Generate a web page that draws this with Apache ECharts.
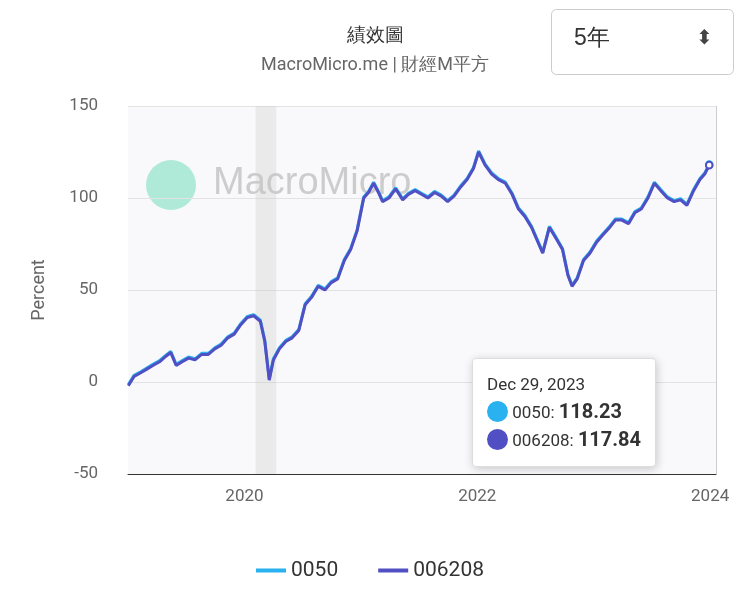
<!DOCTYPE html><html><head><meta charset="utf-8"><script src="https://cdn.jsdelivr.net/npm/echarts@6/dist/echarts.min.js"></script>
<style>body{margin:0;background:#fff}#c{width:740px;height:608px}</style></head><body><div id="c"></div><script>
const dates=["2019-01-02","2019-01-20","2019-02-10","2019-03-01","2019-03-20","2019-04-10","2019-04-30","2019-05-15","2019-06-01","2019-06-20","2019-07-10","2019-07-30","2019-08-20","2019-09-10","2019-09-30","2019-10-20","2019-11-10","2019-11-30","2019-12-20","2020-01-10","2020-01-30","2020-02-20","2020-03-05","2020-03-19","2020-04-01","2020-04-20","2020-05-10","2020-05-30","2020-06-20","2020-07-10","2020-07-30","2020-08-20","2020-09-10","2020-09-30","2020-10-20","2020-11-10","2020-11-30","2020-12-20","2021-01-10","2021-01-25","2021-02-10","2021-02-25","2021-03-10","2021-03-30","2021-04-20","2021-05-12","2021-05-30","2021-06-20","2021-07-10","2021-07-30","2021-08-20","2021-09-10","2021-09-30","2021-10-20","2021-11-10","2021-11-30","2021-12-20","2022-01-05","2022-01-25","2022-02-15","2022-03-08","2022-03-30","2022-04-20","2022-05-10","2022-05-30","2022-06-20","2022-07-05","2022-07-25","2022-08-15","2022-09-05","2022-09-25","2022-10-12","2022-10-25","2022-11-10","2022-11-30","2022-12-20","2023-01-10","2023-01-30","2023-02-20","2023-03-10","2023-03-30","2023-04-20","2023-05-10","2023-05-30","2023-06-20","2023-07-10","2023-07-30","2023-08-20","2023-09-10","2023-09-30","2023-10-20","2023-11-10","2023-11-30","2023-12-15","2023-12-29"];
const s006208=[-2,3,5,7,9,11,14,16,9,11,13,12,15,15,18,20,24,26,31,35,36,33,22,1,12,18,22,24,28,42,46,52,50,54,56,66,72,82,100,103,108,103,98,100,105,99,102,104,102,100,103,101,98,101,106,110,116,125,118,113,110,108,102,94,90,84,78,70,84,78,72,58,52,56,66,70,76,80,84,88,88,86,92,94,100,108,104,100,98,99,96,104,110,113,117.84];
const s0050=s006208.map((v,i)=>i===s006208.length-1?118.23:v+0.6);
function dy(s){const d=new Date(s+"T00:00:00Z");const y=d.getUTCFullYear();return y+(d-Date.UTC(y,0,1))/(Date.UTC(y+1,0,1)-Date.UTC(y,0,1));}
const xs=dates.map(dy);
const ch=echarts.init(document.getElementById('c'));
ch.setOption({
 animation:false,
 textStyle:{fontFamily:'Roboto'},
 title:{text:'績效圖',subtext:'MacroMicro.me | 財經M平方',left:370,textAlign:'center',top:22,textStyle:{fontSize:19,fontWeight:'normal',color:'#333'},subtextStyle:{fontSize:18,color:'#666'},itemGap:10},
 graphic:[
  {type:'rect',left:128,top:106,shape:{width:588,height:368},style:{fill:'#f9f9fb'},z:-1},
  {type:'rect',left:551,top:9,shape:{width:182,height:65,r:5},style:{fill:'#fff',stroke:'#ccc',lineWidth:1}},
  {type:'text',left:574,top:27,style:{text:'5年',fontSize:23,fill:'#333'}},
  {type:'text',left:696,top:28,style:{text:'⬍',fontSize:20,fill:'#444'}},
  {type:'circle',shape:{cx:171,cy:185,r:25},style:{fill:'#7ddfc3',opacity:0.6},z:0},
  {type:'text',left:213,top:165,style:{text:'MacroMicro',fontSize:38,fill:'#ccc'},z:0}
 ],
 grid:{left:128,right:24,top:106,bottom:134},
 legend:{bottom:22,itemGap:40,itemWidth:30,textStyle:{fontSize:21,color:'#333'},icon:'path://M0,0h30v4h-30z',data:['0050','006208']},
 tooltip:{trigger:'axis',alwaysShowContent:true,position:[472,358],backgroundColor:'#fff',borderColor:'#ddd',padding:[12,14],
  axisPointer:{type:'line',lineStyle:{opacity:0}},
  formatter:()=>'<div style="font-size:17px;color:#333;line-height:27px">Dec 29, 2023<br><span style="display:inline-block;width:21px;height:21px;border-radius:11px;background:#29b1f0;vertical-align:-4px"></span> 0050: <b style="font-size:20px">118.23</b><br><span style="display:inline-block;width:21px;height:21px;border-radius:11px;background:#5050c4;vertical-align:-4px"></span> 006208: <b style="font-size:20px">117.84</b></div>'},
 xAxis:{type:'value',min:2019,max:2024.05,interval:1,axisLine:{onZero:false,lineStyle:{color:'#333'}},axisTick:{show:false},splitLine:{show:false},
  axisLabel:{fontSize:17,color:'#666',margin:14,formatter:v=>(v%2===0?String(v):''),showMaxLabel:false}},
 yAxis:{type:'value',min:-50,max:150,interval:50,name:'Percent',nameLocation:'middle',nameGap:80,nameTextStyle:{fontSize:18,color:'#666'},
  axisLabel:{fontSize:17,color:'#666',margin:30},axisLine:{show:false},axisTick:{show:false},splitLine:{lineStyle:{color:'#e3e3e3'}}},
 series:[
  {name:'0050',type:'line',data:xs.map((x,i)=>[x,s0050[i]]),showSymbol:false,emphasis:{disabled:true},lineStyle:{width:3,color:'#29b1f0'},itemStyle:{color:'#29b1f0'},
   markArea:{silent:true,itemStyle:{color:'rgba(200,200,200,0.3)'},data:[[{xAxis:dy('2020-02-05')},{xAxis:dy('2020-04-10')}]]},
   markLine:{silent:true,symbol:'none',label:{show:false},lineStyle:{color:'#ccc',type:'solid'},data:[{xAxis:2024.05}]}},
  {name:'006208',type:'line',data:xs.map((x,i)=>[x,s006208[i]]),showSymbol:false,emphasis:{disabled:true},lineStyle:{width:3,color:'#5050c4'},itemStyle:{color:'#5050c4'}}
 ]
});
setTimeout(()=>ch.dispatchAction({type:'showTip',seriesIndex:1,dataIndex:dates.length-1}),50);
</script></body></html>
